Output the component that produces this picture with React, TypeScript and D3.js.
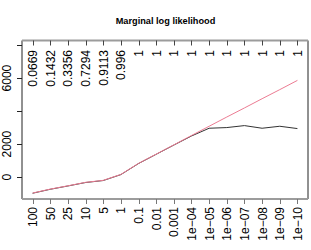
import React, { useEffect, useRef } from 'react';
import * as d3 from 'd3';

const categories = ['100', '50', '25', '10', '5', '1', '0.1', '0.01', '0.001', '1e\u221204', '1e\u221205', '1e\u221206', '1e\u221207', '1e\u221208', '1e\u221209', '1e\u221210'];
const topLabels = ['0.0669', '0.1432', '0.3356', '0.7294', '0.9113', '0.996', '1', '1', '1', '1', '1', '1', '1', '1', '1', '1'];
const fittedValues = [-970, -730, -530, -320, -200, 160, 830, 1390, 1950, 2520, 3080, 3640, 4190, 4750, 5300, 5860];
const observedValues = [-980, -740, -540, -330, -210, 150, 820, 1380, 1940, 2490, 2960, 3000, 3120, 2960, 3080, 2940];
const yTicks = [0, 2000, 4000, 6000, 8000];
const yTickLabels = ['0', '2000', '', '6000', ''];

const W = 311;
const H = 250;

const App: React.FC = () => {
  const svgRef = useRef<SVGSVGElement>(null);

  useEffect(() => {
    if (!svgRef.current) return;
    const svg = d3.select(svgRef.current);
    svg.selectAll('*').remove();

    const left = 22, right = 308, top = 40.5, bottom = 199;
    const font = 'Liberation Sans, Arial, sans-serif';

    // R-style 4% padding on the index axis
    const x = d3.scaleLinear().domain([-0.6, categories.length - 1 + 0.6]).range([left, right]);
    const y = d3.scaleLinear().domain([-1329, 8278]).range([bottom, top]);

    svg.append('rect').attr('width', W).attr('height', H).attr('fill', '#fff');

    svg.append('text')
      .attr('x', (left + right) / 2 + 0.5)
      .attr('y', 24)
      .attr('text-anchor', 'middle')
      .style('font-family', font)
      .style('font-weight', 'bold')
      .style('font-size', '9.2px')
      .text('Marginal log likelihood');

    // lines
    const line = d3.line<number>()
      .x((_, i) => x(i))
      .y(d => y(d));

    svg.append('path')
      .datum(observedValues)
      .attr('d', line)
      .attr('fill', 'none')
      .attr('stroke', '#333')
      .attr('stroke-width', 1);

    svg.append('path')
      .datum(fittedValues)
      .attr('d', line)
      .attr('fill', 'none')
      .attr('stroke', '#ec7c93')
      .attr('stroke-width', 1);

    // frame: black sides, gray top/bottom
    svg.append('line').attr('x1', left).attr('x2', left).attr('y1', top).attr('y2', bottom)
      .attr('stroke', '#222').attr('stroke-width', 1);
    svg.append('line').attr('x1', right).attr('x2', right).attr('y1', top).attr('y2', bottom)
      .attr('stroke', '#222').attr('stroke-width', 1);
    svg.append('line').attr('x1', left).attr('x2', right).attr('y1', top).attr('y2', top)
      .attr('stroke', '#9c9c9c').attr('stroke-width', 2);
    svg.append('line').attr('x1', left).attr('x2', right).attr('y1', bottom).attr('y2', bottom)
      .attr('stroke', '#9c9c9c').attr('stroke-width', 2);

    // y axis
    yTicks.forEach((t, i) => {
      svg.append('line')
        .attr('x1', left - 5).attr('x2', left)
        .attr('y1', Math.round(y(t)) + 0.5).attr('y2', Math.round(y(t)) + 0.5)
        .attr('stroke', '#222');
      if (yTickLabels[i]) {
        svg.append('text')
          .attr('transform', `translate(10.5,${y(t)}) rotate(-90)`)
          .attr('text-anchor', 'middle')
          .style('font-family', font)
          .style('font-size', '12px')
          .text(yTickLabels[i]);
      }
    });

    // bottom axis
    categories.forEach((c, i) => {
      const px = Math.round(x(i)) + 0.5;
      svg.append('line')
        .attr('x1', px).attr('x2', px)
        .attr('y1', bottom).attr('y2', bottom + 5)
        .attr('stroke', '#777');
      svg.append('text')
        .attr('transform', `translate(${x(i) + 4.5},${bottom + 8}) rotate(-90)`)
        .attr('text-anchor', 'end')
        .style('font-family', font)
        .style('font-size', '12px')
        .text(c);
    });

    // top axis with labels inside the plot
    topLabels.forEach((lab, i) => {
      const px = Math.round(x(i)) + 0.5;
      svg.append('line')
        .attr('x1', px).attr('x2', px)
        .attr('y1', top).attr('y2', top + 5)
        .attr('stroke', '#444');
      svg.append('text')
        .attr('transform', `translate(${x(i) + 4.5},${top + 9.5}) rotate(-90)`)
        .attr('text-anchor', 'end')
        .style('font-family', font)
        .style('font-size', '12px')
        .text(lab);
    });
  }, []);

  return <svg ref={svgRef} width={W} height={H} style={{ position: 'absolute', left: 0, top: 0 }} />;
};

export default App;
